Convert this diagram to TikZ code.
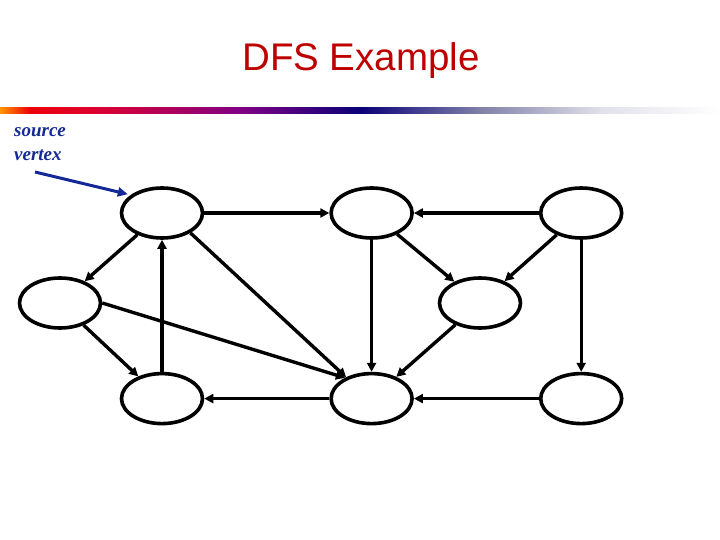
\documentclass[tikz,border=0pt]{standalone}
\usepackage{fontspec}
\setmainfont{Liberation Serif}
\newfontfamily\headfont{Liberation Sans}
\usepackage{tikz}
\usetikzlibrary{positioning,arrows.meta,shapes.geometric}
\definecolor{titlered}{RGB}{190,0,0}
\definecolor{srcblue}{RGB}{20,40,150}
\pgfdeclarehorizontalshading{rulebar}{100bp}{rgb(0bp)=(1,0.59,0); rgb(25bp)=(1,0.59,0); rgb(27.1bp)=(0.93,0,0.04); rgb(31.9bp)=(0.86,0,0.2); rgb(41.7bp)=(0.5,0,0.52); rgb(50bp)=(0.04,0,0.47); rgb(58.3bp)=(0.5,0.5,0.66); rgb(66.7bp)=(0.88,0.88,0.92); rgb(75bp)=(1,1,1); rgb(100bp)=(1,1,1)}
\tikzset{
  vert/.style={ellipse, draw=black, line width=3.6pt, minimum width=81pt, minimum height=50pt, inner sep=0pt},
  arr/.style={-{Triangle[length=9pt,width=9pt]}, line width=3.4pt},
  srcarr/.style={-{Triangle[length=10pt,width=9pt]}, line width=3pt, draw=srcblue},
}

\begin{document}
\begin{tikzpicture}[x=1pt,y=-1pt]
    \useasboundingbox (0,0) rectangle (720,540);
    \node[font=\headfont\fontsize{38.5}{46}\selectfont, text=titlered, anchor=base] (title) at (361,71) {DFS Example};
    \fill[shading=rulebar] (0,108) rectangle (720,114);
    \node[font=\fontsize{19}{24}\selectfont\bfseries\itshape, text=srcblue, align=left, anchor=north west, inner sep=0pt] (src) at (14,127) {source\\vertex};
    % vertices
    \node[vert] (a) at (162,213) {};
    \node[vert, right=125pt of a] (b) {};
    \node[vert, right=125pt of b] (c) {};
    \node[vert] (d) at (60,303) {};
    \node[vert] (e) at (480,303) {};
    \node[vert, below=132pt of a] (f) {};
    \node[vert, right=125pt of f] (g) {};
    \node[vert, right=125pt of g] (h) {};
    \coordinate (srcstart) at (35,172);
    \draw[srcarr, shorten >=3pt] (srcstart) -- (a.150);
    % edges
    \draw[arr] (a) -- (b); \draw[arr] (c) -- (b);
    \draw[arr] (a) -- (d); \draw[arr] (d) -- (f); \draw[arr] (f) -- (a);
    \draw[arr] (a.-35) -- (g.140); \draw[arr] (d.east) -- (g.142);
    \draw[arr] (b) -- (g); \draw[arr] (b) -- (e); \draw[arr] (c) -- (e);
    \draw[arr] (e) -- (g); \draw[arr] (c) -- (h);
    \draw[arr] (g) -- (f); \draw[arr] (h) -- (g);
\end{tikzpicture}
\end{document}
